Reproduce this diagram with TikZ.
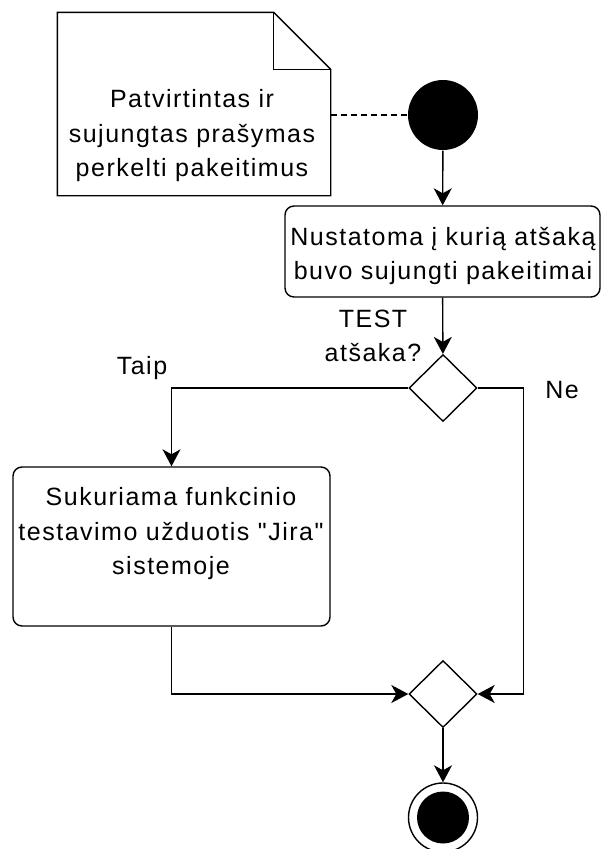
\documentclass[tikz,border=0pt]{standalone}
\usepackage{fontspec}
\setmainfont{Liberation Sans}[LetterSpace=6, Ligatures=TeXOff]
\usetikzlibrary{arrows.meta,shapes.geometric,calc}
\begin{document}
\begin{tikzpicture}[x=1pt,y=-1pt,
  line width=1.4pt,
  txt/.style={font=\fontsize{25}{34.5}\selectfont, align=center, inner sep=0pt},
  actbox/.style={draw, rounded corners=9pt, inner sep=0pt},
  choice/.style={draw, diamond, inner sep=0pt, minimum width=68pt, minimum height=67pt},
  flow/.style={-{Stealth[length=17pt,width=18pt,inset=5pt]}},
  linkline/.style={dashed, dash pattern=on 6pt off 4pt},
]
\useasboundingbox (0,0) rectangle (601,849);

% comment note with folded corner
\node[inner sep=0pt, minimum width=272pt, minimum height=182pt] (note) at (194,104) {};
\draw ($(note.north east)+(-57,0)$) coordinate (fold)
  -- (note.north west) -- (note.south west) -- (note.south east)
  -- ($(note.north east)+(0,57)$) coordinate (foldb) -- cycle;
\draw (fold) |- (foldb);
\node[txt] (notetext) at (192,136) {Patvirtintas ir\\sujungtas prašymas\\perkelti pakeitimus};

% initial node
\node[circle, fill=black, minimum size=70pt, inner sep=0pt] (start) at (443,115) {};

% first action
\node[actbox, minimum width=315pt, minimum height=91pt] (box1) at (442.5,251.5) {};
\node[txt] (box1text) at (443,256) {Nustatoma į kurią atšaką\\buvo sujungti pakeitimai};

% decision
\node[choice] (dec) at (443,388) {};
\node[txt] (declabel) at (373,336) {TEST\\atšaka?};
\node[txt] (yes) at (142,368) {Taip};
\node[txt] (no) at (562,390) {Ne};

% second action
\node[actbox, minimum width=317pt, minimum height=159pt] (box2) at (171.5,546.5) {};
\node[txt] (box2text) at (171,534) {Sukuriama funkcinio\\testavimo užduotis "Jira"\\sistemoje};

% merge
\node[choice] (merge) at (443,694) {};

% final node
\node[circle, draw, minimum size=69pt, inner sep=0pt] (end) at (443,817.5) {};
\fill (end.center) circle (26pt);

% connectors
\draw[linkline] (start.west) -- (start.west -| note.east);
\draw[flow] (start) -- (box1);
\draw[flow] (box1) -- (dec);
\draw[flow] (dec.west) -| (box2.north);
\draw[flow] (dec.east) -- ++(46,0) |- (merge.east);
\draw[flow] (box2.south) |- (merge.west);
\draw[flow] (merge) -- (end);
\end{tikzpicture}
\end{document}
